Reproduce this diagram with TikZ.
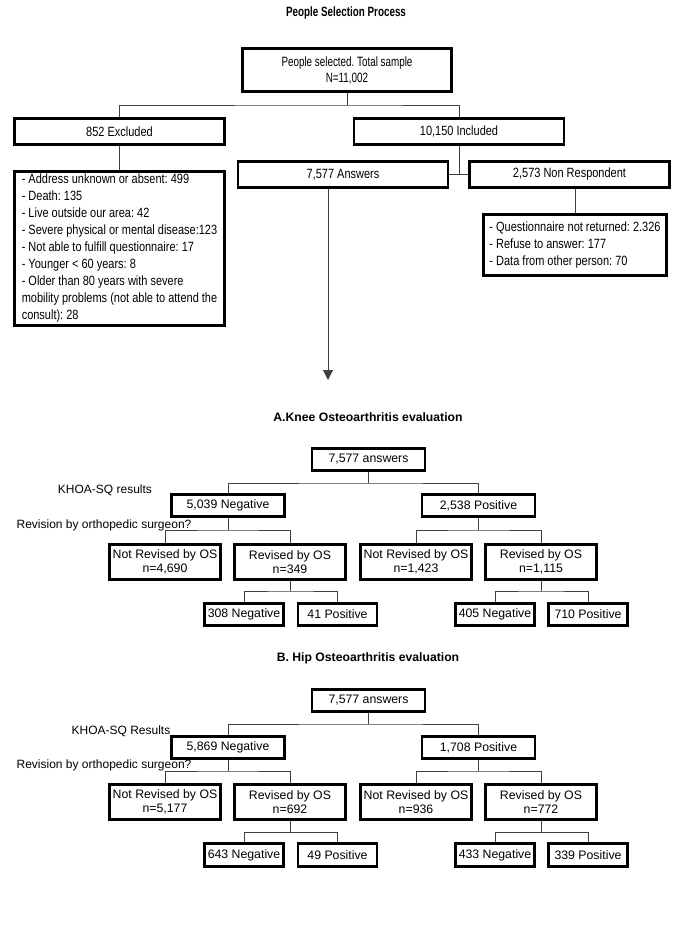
\documentclass[tikz,border=0pt]{standalone}
\usepackage{fontspec}
\setmainfont{Liberation Sans}
\newfontfamily\narrowfont[FakeStretch=0.82]{Liberation Sans}
\newfontfamily\condfont[FakeStretch=0.73]{Liberation Sans}
\usetikzlibrary{arrows.meta}
\frenchspacing
\tikzset{
  x=1pt, y=-1pt,
  box/.style={draw, line width=2.8pt, inner sep=2pt, align=center},
  nbox/.style={box, font=\narrowfont\fontsize{13.4}{17}\selectfont},
  ebox/.style={box, font=\fontsize{12.3}{14}\selectfont},
  listbox/.style={nbox, align=left, inner sep=3pt},
  conn/.style={line width=1pt, draw=black!75},
  toptitle/.style={font=\condfont\bfseries\fontsize{13.5}{16}\selectfont},
  sectitle/.style={font=\bfseries\fontsize{12.2}{14}\selectfont},
  lbl/.style={font=\fontsize{12}{14}\selectfont, inner sep=0pt},
  w2/.style={minimum width=210pt, minimum height=26pt},
  l2/.style={minimum width=113pt, minimum height=22.5pt},
  l3/.style={minimum width=111pt, minimum height=35pt},
  l4/.style={minimum width=79pt, minimum height=22.5pt},
}
\begin{document}
\begin{tikzpicture}
\useasboundingbox (0,0) rectangle (685,934);

% ---------- People selection ----------
\node[toptitle] (t0) at (346,13) {People Selection Process};
\node[box, font=\condfont\fontsize{13.5}{16}\selectfont, minimum width=209pt, minimum height=43pt] (top) at (347,70) {People selected. Total sample\\N=11,002};
\node[nbox, w2] (excl) at (119.5,131.5) {852 Excluded};
\node[nbox, w2] (incl) at (459,131.5) {10,150 Included};
\node[listbox, minimum width=210pt, minimum height=154pt] (addr) at (119.5,248.5) {- Address unknown or absent: 499\\- Death: 135\\- Live outside our area: 42\\- Severe physical or mental disease:123\\- Not able to fulfill questionnaire: 17\\- Younger < 60 years: 8\\- Older than 80 years with severe\\mobility problems (not able to attend the\\consult): 28};
\node[nbox, w2] (ans) at (343,174.5) {7,577 Answers};
\node[nbox, minimum width=200pt, minimum height=26pt] (nonr) at (569.5,174.5) {2,573 Non Respondent};
\node[listbox, minimum width=183pt, minimum height=61pt] (quest) at (575,245) {- Questionnaire not returned: 2.326\\- Refuse to answer: 177\\- Data from other person: 70};

\coordinate (j0) at (347,105);
\coordinate (tip) at (328,380);
\draw[conn] (top.south) -- (j0);
\draw[conn] (excl.north) |- (j0) -| (incl.north);
\draw[conn] (excl.south) -- (addr.north);
\draw[conn] (incl.south) -- (incl.south |- ans.east);
\draw[conn] (ans.east) -- (nonr.west);
\draw[conn] (quest.north) -- (quest.north |- nonr.south);
\draw[conn, -{Triangle[width=10pt,length=10pt]}] (ans.south -| tip) -- (tip);

% ---------- Knee ----------
\node[sectitle] (kt) at (368,417) {A.Knee Osteoarthritis evaluation};
\node[ebox, l2] (kans) at (368.5,459.5) {7,577 answers};
\node[lbl] (kkhoa) at (105,490) {KHOA-SQ results};
\node[ebox, l2] (kneg) at (228,505.5) {5,039 Negative};
\node[ebox, l2] (kpos) at (478.5,505.5) {2,538 Positive};
\node[lbl] (krev) at (104,525) {Revision by orthopedic surgeon?};
\node[ebox, l3] (knr1) at (165,562) {Not Revised by OS\\n=4,690};
\node[ebox, l3] (kr1) at (290,562) {Revised by OS\\n=349};
\node[ebox, l3] (knr2) at (416,562) {Not Revised by OS\\n=1,423};
\node[ebox, l3] (kr2) at (541,562) {Revised by OS\\n=1,115};
\node[ebox, l4] (kb1) at (244,614.5) {308 Negative};
\node[ebox, l4] (kb2) at (337.5,614.5) {41 Positive};
\node[ebox, l4] (kb3) at (495,614.5) {405 Negative};
\node[ebox, l4] (kb4) at (588,614.5) {710 Positive};

\coordinate (kj1) at (368.5,483);
\coordinate (kj2) at (228,530);
\coordinate (kj3) at (478.5,530);
\coordinate (kj4) at (290,591);
\coordinate (kj5) at (541,591);
\draw[conn] (kans.south) -- (kj1);
\draw[conn] (kneg.north) |- (kj1) -| (kpos.north);
\draw[conn] (kneg.south) -- (kj2);
\draw[conn] (knr1.north) |- (kj2) -| (kr1.north);
\draw[conn] (kpos.south) -- (kj3);
\draw[conn] (knr2.north) |- (kj3) -| (kr2.north);
\draw[conn] (kr1.south) -- (kj4);
\draw[conn] (kb1.north) |- (kj4) -| (kb2.north);
\draw[conn] (kr2.south) -- (kj5);
\draw[conn] (kb3.north) |- (kj5) -| (kb4.north);

% ---------- Hip ----------
\node[sectitle] (ht) at (368,658) {B. Hip Osteoarthritis evaluation};
\node[ebox, l2] (hans) at (368.5,700.5) {7,577 answers};
\node[lbl] (hkhoa) at (121,731) {KHOA-SQ Results};
\node[ebox, l2] (hneg) at (228,747.5) {5,869 Negative};
\node[ebox, l2] (hpos) at (478.5,747.5) {1,708 Positive};
\node[lbl] (hrev) at (104,765) {Revision by orthopedic surgeon?};
\node[ebox, l3] (hnr1) at (165,802) {Not Revised by OS\\n=5,177};
\node[ebox, l3] (hr1) at (290,802) {Revised by OS\\n=692};
\node[ebox, l3] (hnr2) at (416,802) {Not Revised by OS\\n=936};
\node[ebox, l3] (hr2) at (541,802) {Revised by OS\\n=772};
\node[ebox, l4] (hb1) at (244,855) {643 Negative};
\node[ebox, l4] (hb2) at (337.5,855) {49 Positive};
\node[ebox, l4] (hb3) at (495,855) {433 Negative};
\node[ebox, l4] (hb4) at (588,855) {339 Positive};

\coordinate (hj1) at (368.5,724);
\coordinate (hj2) at (228,771);
\coordinate (hj3) at (478.5,771);
\coordinate (hj4) at (290,832);
\coordinate (hj5) at (541,832);
\draw[conn] (hans.south) -- (hj1);
\draw[conn] (hneg.north) |- (hj1) -| (hpos.north);
\draw[conn] (hneg.south) -- (hj2);
\draw[conn] (hnr1.north) |- (hj2) -| (hr1.north);
\draw[conn] (hpos.south) -- (hj3);
\draw[conn] (hnr2.north) |- (hj3) -| (hr2.north);
\draw[conn] (hr1.south) -- (hj4);
\draw[conn] (hb1.north) |- (hj4) -| (hb2.north);
\draw[conn] (hr2.south) -- (hj5);
\draw[conn] (hb3.north) |- (hj5) -| (hb4.north);
\end{tikzpicture}
\end{document}
